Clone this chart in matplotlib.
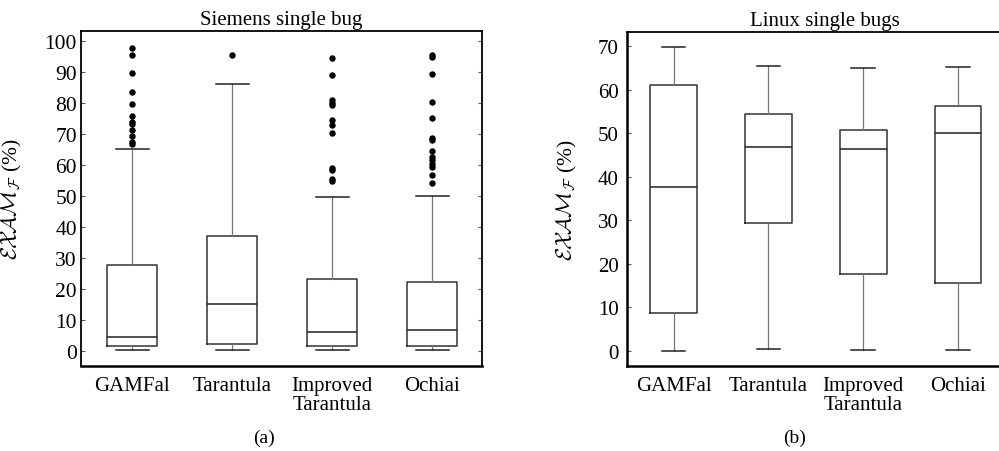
import matplotlib.pyplot as plt

plt.rcParams['font.family'] = ['Liberation Serif', 'DejaVu Serif']
plt.rcParams['mathtext.fontset'] = 'cm'

methods = ['GAMFal', 'Tarantula', 'Improved\nTarantula', 'Ochiai']

# Siemens single bug (a)
s_low = [0.2, 0.2, 0.2, 0.2]
s_q1 = [1.4, 2.1, 1.3, 1.3]
s_med = [4.3, 15.1, 6.0, 6.6]
s_q3 = [27.7, 37.0, 23.1, 22.1]
s_high = [65.1, 86.0, 49.6, 49.8]
s_fliers = [
    [97.7, 95.5, 89.5, 83.5, 79.5, 75.9, 73.9, 73.3, 71.3, 69.2, 67.4, 66.7],
    [95.4],
    [94.4, 88.9, 80.8, 80.1, 79.4, 74.6, 72.9, 70.2, 58.9, 58.3, 55.5, 54.8],
    [95.6, 94.9, 89.3, 80.3, 75.0, 68.5, 67.9, 64.6, 62.4, 61.4, 60.3, 59.2, 56.6, 54.0],
]

# Linux single bugs (b)
l_low = [0.0, 0.5, 0.2, 0.2]
l_q1 = [8.6, 29.4, 17.6, 15.5]
l_med = [37.6, 46.8, 46.5, 50.1]
l_q3 = [61.1, 54.5, 50.8, 56.3]
l_high = [69.8, 65.5, 65.1, 65.3]


def make_stats(low, q1, med, q3, high, fliers=None):
    stats = []
    for i in range(len(low)):
        stats.append({'whislo': low[i], 'q1': q1[i], 'med': med[i], 'q3': q3[i],
                      'whishi': high[i], 'fliers': fliers[i] if fliers else []})
    return stats


def draw(ax, stats, width, capw):
    ax.bxp(stats, positions=range(1, 5), widths=width, capwidths=capw,
           showfliers=True, patch_artist=False,
           boxprops=dict(color='#333333', linewidth=1.1),
           medianprops=dict(color='#222222', linewidth=1.1),
           whiskerprops=dict(color='#777777', linewidth=0.9),
           capprops=dict(color='#222222', linewidth=1.1),
           flierprops=dict(marker='o', markerfacecolor='black',
                           markeredgecolor='black', markersize=3.6))
    ax.tick_params(direction='in', length=3, width=0.8, colors='#555555',
                   labelcolor='black')
    ax.set_xticks(range(1, 5))
    ax.set_xticklabels(methods, fontsize=15, linespacing=1.0)
    ax.tick_params(axis='x', length=0, pad=7)


fig = plt.figure(figsize=(9.99, 4.52), dpi=100)
W, H = 999, 452

ylab = r'$\mathcal{EXAM}_{\mathcal{F}}$ (%)'

ax1 = fig.add_axes([81 / W, 1 - 367 / H, 401 / W, 335 / H])
draw(ax1, make_stats(s_low, s_q1, s_med, s_q3, s_high, s_fliers), 0.5, 0.33)
ax1.set_xlim(0.49, 4.5)
ax1.set_ylim(-5, 103.2)
ax1.set_yticks(range(0, 101, 10))
ax1.tick_params(axis='y', labelsize=15.5, right=True, pad=3)
for sp in ax1.spines.values():
    sp.set_linewidth(1.3)
ax1.spines['bottom'].set_linewidth(1.8)
ax1.set_title('Siemens single bug', fontsize=15, pad=5)
ax1.set_ylabel(ylab, fontsize=15.5)
ax1.yaxis.set_label_coords(-0.142, 0.5)
fig.text(264 / W, 1 - 438 / H, '(a)', ha='center', va='center', fontsize=14)

ax2 = fig.add_axes([627 / W, 1 - 367 / H, 373 / W, 334 / H])
draw(ax2, make_stats(l_low, l_q1, l_med, l_q3, l_high), 0.49, 0.25)
ax2.set_xlim(0.51, 4.44)
ax2.set_ylim(-3.5, 73.3)
ax2.set_yticks(range(0, 71, 10))
ax2.tick_params(axis='y', labelsize=15, pad=6)
ax2.spines['right'].set_visible(False)
ax2.spines['top'].set_linewidth(1.3)
ax2.spines['left'].set_linewidth(1.8)
ax2.spines['bottom'].set_linewidth(1.8)
ax2.set_title('Linux single bugs', fontsize=15, pad=5, x=0.53)
ax2.set_ylabel(ylab, fontsize=15.5)
ax2.yaxis.set_label_coords(-0.128, 0.5)
fig.text(795 / W, 1 - 438 / H, '(b)', ha='center', va='center', fontsize=14)

fig.savefig('out.png', dpi=100)
